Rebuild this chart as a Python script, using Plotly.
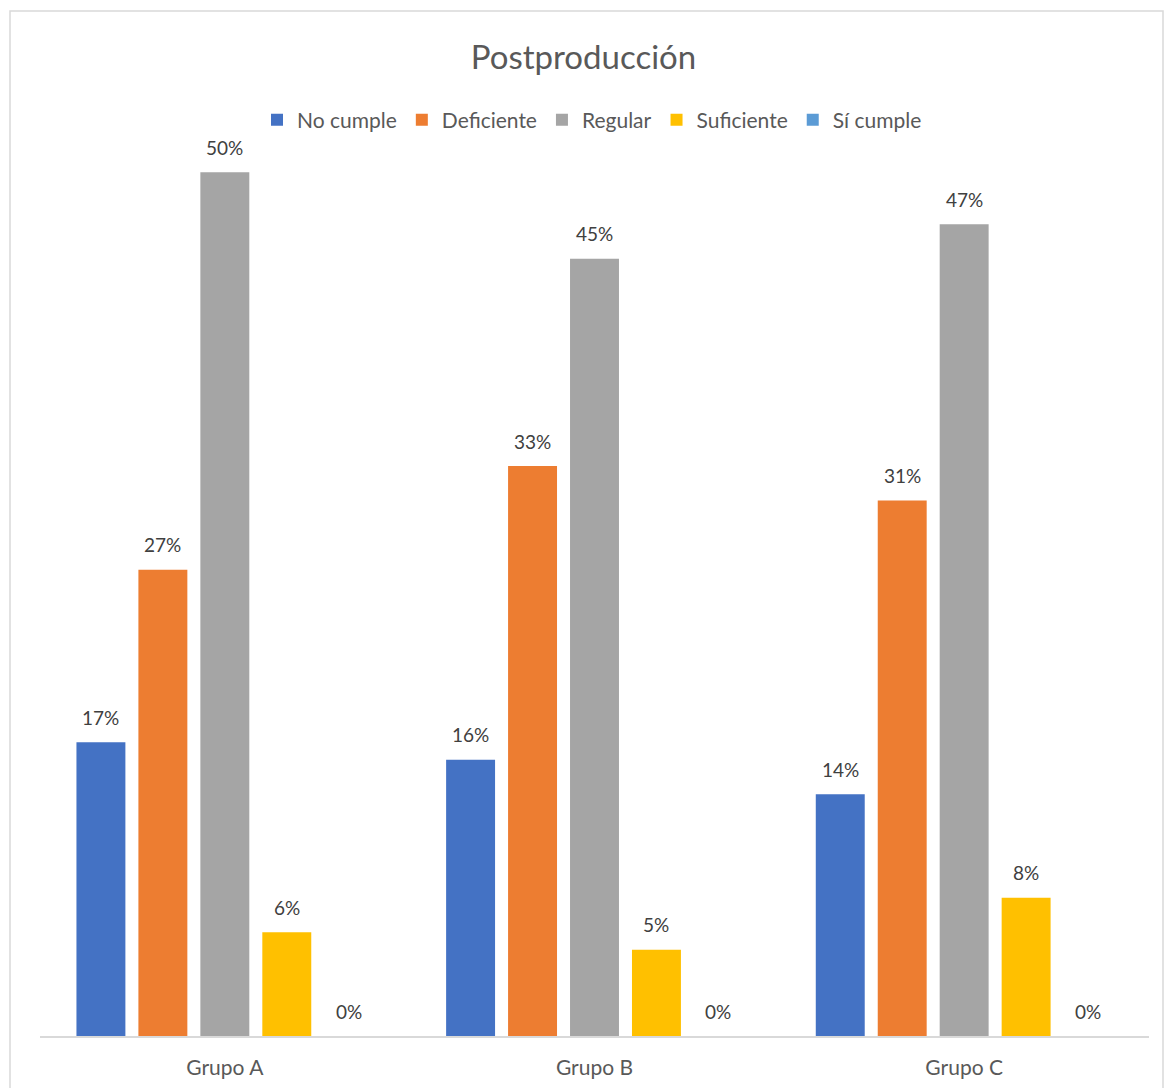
import plotly.graph_objects as go

categories = ["Grupo A", "Grupo B", "Grupo C"]
series_names = ["No cumple", "Deficiente", "Regular", "Suficiente", "Sí cumple"]
no_cumple = [17, 16, 14]
deficiente = [27, 33, 31]
regular = [50, 45, 47]
suficiente = [6, 5, 8]
si_cumple = [0, 0, 0]
colors = ["#4472C4", "#ED7D31", "#A5A5A5", "#FFC000", "#5B9BD5"]

W, H = 1167, 1088
ml, mr, mt, mb = 40, 18, 86, 52
font_family = "Lato, 'Open Sans', sans-serif"
bargap = 0.162

all_series = [no_cumple, deficiente, regular, suficiente, si_cumple]
fig = go.Figure()
for name, vals, col in zip(series_names, all_series, colors):
    fig.add_trace(go.Bar(
        name=name, x=categories, y=vals, marker=dict(color=col, line=dict(width=0)),
    ))

# data labels placed through the axis scales
n = len(series_names)
slot = (1 - bargap) / n
annotations = []
for i, vals in enumerate(all_series):
    for j, v in enumerate(vals):
        annotations.append(dict(
            x=j + (i - (n - 1) / 2) * slot, y=v, xref="x", yref="y",
            text=f"{v}%", showarrow=False, yanchor="middle", yshift=25,
            font=dict(size=19, color="#404040", family=font_family),
        ))

pw = W - ml - mr
ph = H - mt - mb
fig.update_layout(
    width=W, height=H,
    margin=dict(l=ml, r=mr, t=mt, b=mb),
    paper_bgcolor="white", plot_bgcolor="white",
    barmode="group", bargap=bargap, bargroupgap=0.21,
    font=dict(family=font_family, color="#595959"),
    title=dict(text="Postproducción", x=0.5, xanchor="center", y=1 - 57 / H, yanchor="middle",
               font=dict(size=33, color="#595959", family=font_family)),
    legend=dict(orientation="h", x=(592 - ml) / pw, xanchor="center", y=(H - mb - 120) / ph,
                yanchor="middle", font=dict(size=21, color="#595959", family=font_family),
                itemwidth=30, bgcolor="rgba(0,0,0,0)"),
    showlegend=True,
    xaxis=dict(showline=True, linecolor="#D9D9D9", linewidth=1.5, ticks="", showgrid=False,
               ticklabelstandoff=12, automargin=False,
               tickfont=dict(size=21, color="#595959", family=font_family)),
    yaxis=dict(range=[0, 55], visible=False, showgrid=False, zeroline=False, automargin=False),
    annotations=annotations,
    shapes=[dict(type="rect", xref="paper", yref="paper",
                 x0=(10 - ml) / pw, x1=(1163 - ml) / pw,
                 y0=(H - mb - 1100) / ph, y1=(H - mb - 11) / ph,
                 line=dict(color="#D9D9D9", width=1.5), fillcolor="rgba(0,0,0,0)", layer="below")],
)

fig.write_html("out.html")
